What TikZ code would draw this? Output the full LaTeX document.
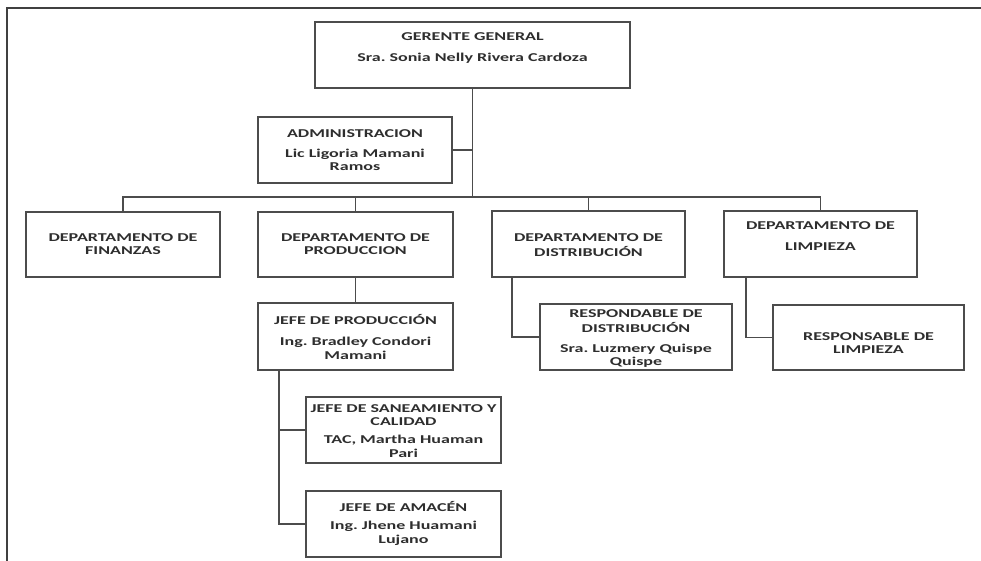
\documentclass[tikz,border=0pt]{standalone}
\usepackage{fontspec}
\setmainfont{Carlito}[FakeStretch=1.5]
\frenchspacing
\begin{document}
\begin{tikzpicture}[x=1pt,y=-1pt,
  frame/.style={draw=black!75,line width=2pt},
  orgbox/.style={rectangle,draw=black!70,line width=1.7pt,fill=white,
    anchor=north west,inner sep=0pt,outer sep=0pt},
  link/.style={draw=black!70,line width=1.7pt},
  txt/.style={anchor=north,inner sep=0pt,align=center,text=black!82,
    font=\fontsize{12}{13.5}\selectfont\bfseries}]
\useasboundingbox (0,0) rectangle (981,561);
% outer frame (left and top edges only)
\coordinate (fr-bl) at (7,561);
\coordinate (fr-tl) at (7,8);
\coordinate (fr-tr) at (981,8);
\draw[frame] (fr-bl) -- (fr-tl) -- (fr-tr);

% boxes (top-left corner, width, height)
\node[orgbox,minimum width=315pt,minimum height=66pt] (gg)   at (315,22)  {};
\node[orgbox,minimum width=194pt,minimum height=66pt] (adm)  at (258,117) {};
\node[orgbox,minimum width=194pt,minimum height=65pt] (fin)  at (26,212)  {};
\node[orgbox,minimum width=195pt,minimum height=65pt] (prod) at (258,212) {};
\node[orgbox,minimum width=193pt,minimum height=66pt] (dist) at (492,211) {};
\node[orgbox,minimum width=193pt,minimum height=66pt] (limp) at (724,211) {};
\node[orgbox,minimum width=195pt,minimum height=67pt] (jp)   at (258,303) {};
\node[orgbox,minimum width=192pt,minimum height=66pt] (rd)   at (540,304) {};
\node[orgbox,minimum width=191pt,minimum height=65pt] (rl)   at (773,305) {};
\node[orgbox,minimum width=195pt,minimum height=66pt] (js)   at (306,397) {};
\node[orgbox,minimum width=195pt,minimum height=66pt] (ja)   at (306,491) {};

% connectors
\coordinate (bus) at (472,197);
\coordinate (dist-o) at ([xshift=20pt]dist.south west);
\coordinate (limp-o) at ([xshift=22pt]limp.south west);
\coordinate (jp-o)   at ([xshift=21pt]jp.south west);
\draw[link] (gg.south) -- (gg.south |- bus);
\draw[link] (adm.east) -- (adm.east -| gg.south);
\draw[link] (fin.north) -- (fin.north |- bus) -- (limp.north |- bus) -- (limp.north);
\draw[link] (prod.north) -- (prod.north |- bus);
\draw[link] (dist.north) -- (dist.north |- bus);
\draw[link] (prod.south) -- (jp.north);
\draw[link] (dist-o) |- (rd.west);
\draw[link] (limp-o) |- (rl.west);
\draw[link] (jp-o) |- (ja.west);
\draw[link] (js.west -| jp-o) -- (js.west);

% texts
\node[txt] (gg-t)   at ([yshift=-8.4pt]gg.north)    {\strut GERENTE GENERAL\\[7.5pt] Sra. Sonia Nelly Rivera Cardoza};
\node[txt] (adm-t)  at ([yshift=-10.4pt]adm.north)  {\strut ADMINISTRACION\\[6.5pt] Lic Ligoria Mamani\\ Ramos};
\node[txt] (fin-t)  at ([yshift=-19.4pt]fin.north)  {\strut DEPARTAMENTO DE\\ FINANZAS};
\node[txt] (prod-t) at ([yshift=-19.4pt]prod.north) {\strut DEPARTAMENTO DE\\ PRODUCCION};
\node[txt] (dist-t) at ([yshift=-20.4pt]dist.north) {\strut DEPARTAMENTO DE\\ DISTRIBUCIÓN};
\node[txt] (limp-t) at ([yshift=-8.4pt]limp.north)  {\strut DEPARTAMENTO DE\\[7.5pt] LIMPIEZA};
\node[txt] (jp-t)   at ([yshift=-11.4pt]jp.north)   {\strut JEFE DE PRODUCCIÓN\\[7.5pt] Ing. Bradley Condori\\ Mamani};
\node[txt] (rd-t)   at ([yshift=-3.4pt]rd.north)    {\strut RESPONDABLE DE\\ DISTRIBUCIÓN\\[6.5pt] Sra. Luzmery Quispe\\ Quispe};
\node[txt] (rl-t)   at ([yshift=-25.4pt]rl.north)   {\strut RESPONSABLE DE\\ LIMPIEZA};
\node[txt] (js-t)   at ([yshift=-5.4pt]js.north)    {\strut JEFE DE SANEAMIENTO Y\\ CALIDAD\\[4.5pt] TAC, Martha Huaman\\ Pari};
\node[txt] (ja-t)   at ([yshift=-10.4pt]ja.north)   {\strut JEFE DE AMACÉN\\[4.5pt] Ing. Jhene Huamani\\ Lujano};
\end{tikzpicture}
\end{document}
